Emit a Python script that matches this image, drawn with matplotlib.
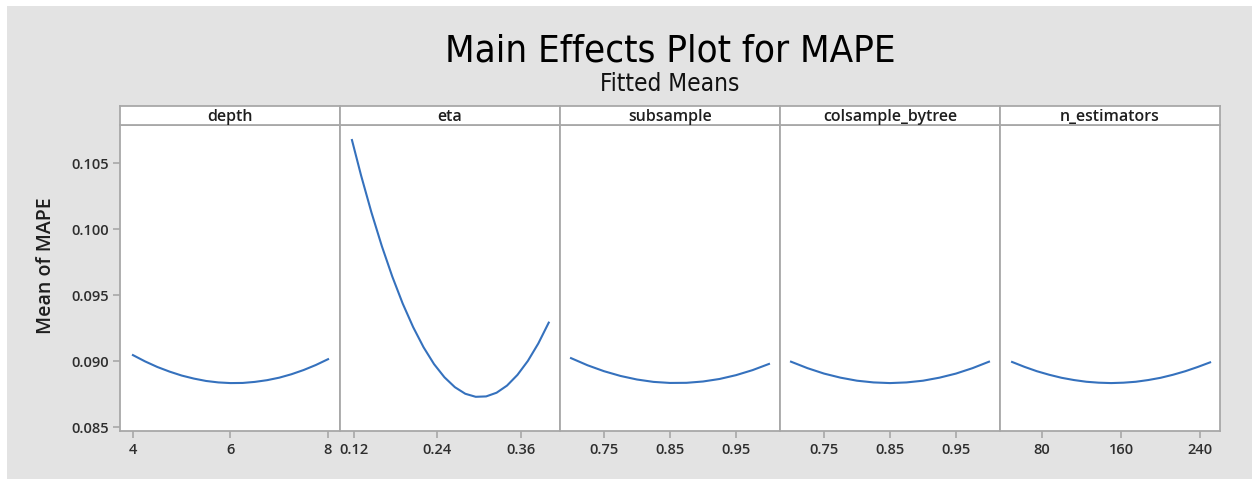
import numpy as np
import matplotlib.pyplot as plt
from matplotlib.patches import Rectangle

# factor names for the strips
factors = ['depth', 'eta', 'subsample', 'colsample_bytree', 'n_estimators']

# fitted means
depth_x = [4, 4.25, 4.5, 4.75, 5, 5.25, 5.5, 5.75, 6, 6.25, 6.5, 6.75, 7, 7.25, 7.5, 7.75, 8]
depth_y = [0.09045, 0.08997, 0.08955, 0.08920, 0.08890, 0.08867, 0.08849, 0.08838, 0.08833,
           0.08834, 0.08842, 0.08855, 0.08874, 0.08900, 0.08932, 0.08970, 0.09014]

eta_x = [0.117, 0.13, 0.145, 0.16, 0.175, 0.19, 0.205, 0.22, 0.235, 0.25,
         0.265, 0.28, 0.295, 0.31, 0.325, 0.34, 0.355, 0.37, 0.385, 0.40]
eta_y = [0.10674, 0.10408, 0.10126, 0.09870, 0.09640, 0.09435, 0.09257, 0.09104, 0.08977, 0.08877,
         0.08802, 0.08752, 0.08729, 0.08732, 0.08760, 0.08814, 0.08895, 0.09001, 0.09133, 0.09291]

subsample_x = [0.700, 0.725, 0.750, 0.775, 0.800, 0.825, 0.850, 0.875, 0.900, 0.925, 0.950, 0.975, 1.000]
subsample_y = [0.09022, 0.08968, 0.08923, 0.08887, 0.08860, 0.08842, 0.08834, 0.08835, 0.08845,
               0.08864, 0.08893, 0.08931, 0.08978]

colsample_x = [0.700, 0.725, 0.750, 0.775, 0.800, 0.825, 0.850, 0.875, 0.900, 0.925, 0.950, 0.975, 1.000]
colsample_y = [0.08995, 0.08946, 0.08905, 0.08874, 0.08851, 0.08838, 0.08833, 0.08838, 0.08851,
               0.08874, 0.08905, 0.08946, 0.08995]

nest_x = [50, 62.5, 75, 87.5, 100, 112.5, 125, 137.5, 150, 162.5, 175, 187.5, 200, 212.5, 225, 237.5, 250]
nest_y = [0.08993, 0.08956, 0.08923, 0.08896, 0.08873, 0.08856, 0.08843, 0.08836, 0.08833,
          0.08836, 0.08843, 0.08856, 0.08873, 0.08896, 0.08923, 0.08955, 0.08990]

xs = [depth_x, eta_x, subsample_x, colsample_x, nest_x]
ys = [depth_y, eta_y, subsample_y, colsample_y, nest_y]

xticks = [[4, 6, 8], [0.12, 0.24, 0.36], [0.75, 0.85, 0.95], [0.75, 0.85, 0.95], [80, 160, 240]]
xticklabels = [['4', '6', '8'], ['0.12', '0.24', '0.36'], ['0.75', '0.85', '0.95'],
               ['0.75', '0.85', '0.95'], ['80', '160', '240']]
xlims = [(3.735, 8.245), (0.0998, 0.4162), (0.6833, 1.0167), (0.6833, 1.0167), (37.8, 260)]

yticks = [0.085, 0.090, 0.095, 0.100, 0.105]
ylim = (0.0847, 0.10788)

plt.rcParams['font.family'] = ['Open Sans', 'DejaVu Sans']

W, H = 1252, 479
fig = plt.figure(figsize=(W / 100, H / 100), dpi=100)
fig.patch.set_facecolor('white')
fig.patches.append(Rectangle((7 / W, 0), 1, (H - 6) / H, transform=fig.transFigure,
                             facecolor='#e3e3e3', edgecolor='none', zorder=-5))

grey = '#a8a8a8'
blue = '#3571bd'
txt = '#2e2e2e'

left, right = 120, 1220
top_plot, bot_plot = 125, 431
strip_top = 106
pw = (right - left) / 5

for i in range(5):
    x0 = (left + i * pw) / W
    ax = fig.add_axes([x0, (H - bot_plot) / H, pw / W, (bot_plot - top_plot) / H])
    ax.set_facecolor('white')
    ax.plot(xs[i], ys[i], color=blue, lw=1.5)
    ax.set_xlim(*xlims[i])
    ax.set_ylim(*ylim)
    ax.set_xticks(xticks[i])
    ax.set_xticklabels(xticklabels[i], fontweight='semibold')
    for s in ax.spines.values():
        s.set_color(grey)
        s.set_linewidth(1.3)
    ax.tick_params(axis='x', direction='out', length=5, width=1.2, color=grey,
                   labelsize=10.5, labelcolor=txt, pad=4)
    if i == 0:
        ax.set_yticks(yticks)
        ax.set_yticklabels(['%.3f' % v for v in yticks], fontweight='semibold')
        ax.tick_params(axis='y', direction='out', length=5, width=1.2, color=grey,
                       labelsize=10.5, labelcolor=txt, pad=3)
    else:
        ax.set_yticks([])

    # strip header
    sax = fig.add_axes([x0, (H - top_plot) / H, pw / W, (top_plot - strip_top) / H])
    sax.set_facecolor('white')
    sax.set_xticks([])
    sax.set_yticks([])
    for s in sax.spines.values():
        s.set_color(grey)
        s.set_linewidth(1.3)
    sax.text(0.5, 0.42, factors[i], ha='center', va='center', fontsize=11.5,
             color='#1e1e1e', fontweight='semibold', transform=sax.transAxes)

fig.text(46 / W, (H - 266) / H, 'Mean of MAPE', rotation=90, ha='center', va='center',
         fontsize=14, color='#1e1e1e', fontweight='semibold')
fig.text(670 / W, (H - 62) / H, 'Main Effects Plot for MAPE', ha='center', va='baseline',
         fontsize=27.5, color='black', fontstretch='condensed', family='DejaVu Sans')
fig.text(670 / W, (H - 91) / H, 'Fitted Means', ha='center', va='baseline',
         fontsize=17.5, color='#111111', fontstretch='condensed', family='DejaVu Sans')

fig.savefig('out.png', dpi=100)
